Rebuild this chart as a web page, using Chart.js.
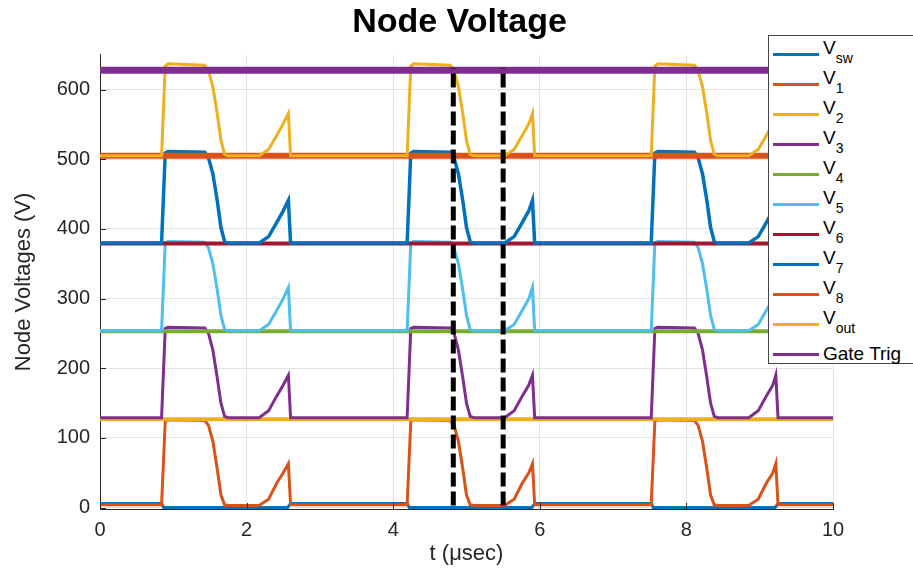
<!DOCTYPE html>
<html>
<head>
<meta charset="utf-8">
<script src="https://cdn.jsdelivr.net/npm/chart.js@4.4.1/dist/chart.umd.min.js"></script>
<style>
  body { margin: 0; overflow: hidden; background: #fff; }
  #wrap { position: relative; width: 913px; height: 574px; overflow: hidden; }
  #leyenda {
    position: absolute; left: 768px; top: 35px; width: 160px; height: 327px;
    border: 1px solid #444; background: #fff;
    font-family: "Liberation Sans", Arial, sans-serif; color: #000;
  }
  .muestra { position: absolute; left: 4px; width: 46px; height: 3px; }
  .texto { position: absolute; left: 54px; font-size: 19px; line-height: 19px; white-space: nowrap; }
  .sub { font-size: 14px; position: relative; top: 9px; }
</style>
</head>
<body>
<div id="wrap">
  <canvas id="grafico" width="913" height="574"></canvas>
  <div id="leyenda"></div>
</div>
<script>
// tiempos compartidos por las señales pulsadas (µs)
const tPulso = [
  0, 0.84, 0.89, 0.93, 1.43, 1.48, 1.54, 1.60, 1.65, 1.70, 1.75, 2.17, 2.30, 2.41, 2.50, 2.57, 2.60, 2.63,
  4.19, 4.24, 4.28, 4.78, 4.83, 4.89, 4.95, 5.00, 5.05, 5.10, 5.52, 5.65, 5.76, 5.85, 5.90, 5.93, 5.96,
  7.52, 7.57, 7.61, 8.11, 8.16, 8.22, 8.28, 8.33, 8.38, 8.43, 8.85, 8.98, 9.09, 9.18, 9.22, 9.25, 9.28, 10
];
const v1 = [
  4, 4, 124, 126, 125, 118, 95, 55, 18, 4, 3, 3, 12, 35, 50, 63, 4, 4,
  4, 124, 126, 125, 118, 95, 55, 18, 4, 3, 3, 12, 35, 50, 63, 4, 4,
  4, 124, 126, 125, 118, 95, 55, 18, 4, 3, 3, 12, 35, 50, 63, 4, 4, 4
];
const v3 = [
  129, 129, 257, 259, 258, 250, 226, 186, 150, 131, 129, 129, 139, 160, 176, 190, 129, 129,
  129, 257, 259, 258, 250, 226, 186, 150, 131, 129, 129, 139, 160, 176, 190, 129, 129,
  129, 257, 259, 258, 250, 226, 186, 150, 131, 129, 129, 139, 160, 176, 190, 129, 129, 129
];
const v5 = [
  254, 254, 380, 382, 381, 373, 350, 312, 276, 256, 254, 254, 263, 283, 300, 316, 254, 254,
  254, 380, 382, 381, 373, 350, 312, 276, 256, 254, 254, 263, 283, 300, 316, 254, 254,
  254, 380, 382, 381, 373, 350, 312, 276, 256, 254, 254, 263, 283, 300, 316, 254, 254, 254
];
const v7 = [
  380, 380, 509, 511, 510, 502, 479, 440, 402, 382, 380, 380, 389, 409, 426, 441, 380, 380,
  380, 509, 511, 510, 502, 479, 440, 402, 382, 380, 380, 389, 409, 426, 441, 380, 380,
  380, 509, 511, 510, 502, 479, 440, 402, 382, 380, 380, 389, 409, 426, 441, 380, 380, 380
];
const vOut = [
  505, 505, 634, 637, 635, 627, 604, 565, 527, 507, 505, 505, 514, 534, 551, 566, 505, 505,
  505, 634, 637, 635, 627, 604, 565, 527, 507, 505, 505, 514, 534, 551, 566, 505, 505,
  505, 634, 637, 635, 627, 604, 565, 527, 507, 505, 505, 514, 534, 551, 566, 505, 505, 505
];
const tSw = [0, 0.84, 0.87, 2.56, 2.60, 4.19, 4.22, 5.89, 5.93, 7.52, 7.55, 9.21, 9.25, 10];
const vSw = [6, 6, 0, 0, 6, 6, 0, 0, 6, 6, 0, 0, 6, 6];
const tPlano = [0, 10];
const v2 = [127, 127];
const v4 = [253, 253];
const v6 = [379, 379];
const v8 = [505, 505];
const gateTrig = [628, 628];
const tCursor1 = [4.82, 4.82];
const tCursor2 = [5.50, 5.50];
const vCursor = [3, 631];

const nombres = ["V", "V", "V", "V", "V", "V", "V", "V", "V", "V", "Gate Trig"];
const subindices = ["sw", "1", "2", "3", "4", "5", "6", "7", "8", "out", ""];
const colores = ["#0072BD", "#D95319", "#EDB120", "#7E2F8E", "#77AC30", "#4DBEEE",
                 "#A2142F", "#0072BD", "#D95319", "#EDB120", "#7E2F8E"];

function puntos(xs, ys) {
  return xs.map((x, i) => ({ x: x, y: ys[i] }));
}

const series = [
  { t: tSw, v: vSw, ancho: 3 },
  { t: tPulso, v: v1, ancho: 3 },
  { t: tPlano, v: v2, ancho: 4 },
  { t: tPulso, v: v3, ancho: 3 },
  { t: tPlano, v: v4, ancho: 4 },
  { t: tPulso, v: v5, ancho: 3 },
  { t: tPlano, v: v6, ancho: 4 },
  { t: tPulso, v: v7, ancho: 3.5 },
  { t: tPlano, v: v8, ancho: 6 },
  { t: tPulso, v: vOut, ancho: 3 },
  { t: tPlano, v: gateTrig, ancho: 7 },
];

const datasets = series.map((s, i) => ({
  label: nombres[i] + subindices[i],
  data: puntos(s.t, s.v),
  borderColor: colores[i],
  borderWidth: s.ancho,
  pointRadius: 0,
  tension: 0,
  order: 11 - i,
}));

[tCursor1, tCursor2].forEach((tc) => {
  datasets.push({
    label: "cursor",
    data: puntos(tc, vCursor),
    borderColor: "#000",
    borderWidth: 5,
    borderDash: [14, 5],
    pointRadius: 0,
    order: 0,
  });
});

// marcas de los ticks hacia adentro, estilo MATLAB
const marcasTicks = {
  id: "marcasTicks",
  afterDatasetsDraw(chart) {
    const { ctx, chartArea, scales } = chart;
    ctx.save();
    ctx.strokeStyle = "#262626";
    ctx.lineWidth = 1;
    ctx.beginPath();
    scales.y.ticks.forEach((t) => {
      const py = Math.round(scales.y.getPixelForValue(t.value)) + 0.5;
      ctx.moveTo(chartArea.left, py);
      ctx.lineTo(chartArea.left + 6, py);
    });
    scales.x.ticks.forEach((t) => {
      const px = Math.round(scales.x.getPixelForValue(t.value)) + 0.5;
      ctx.moveTo(px, chartArea.bottom);
      ctx.lineTo(px, chartArea.bottom - 6);
    });
    ctx.stroke();
    ctx.restore();
  },
};

Chart.defaults.font.family = '"Liberation Sans", Arial, sans-serif';

const ctx = document.getElementById("grafico").getContext("2d");
new Chart(ctx, {
  type: "line",
  data: { datasets: datasets },
  plugins: [marcasTicks],
  options: {
    responsive: false,
    animation: false,
    layout: { padding: { left: 6, right: 0, top: 0, bottom: 0 } },
    plugins: {
      legend: { display: false },
      tooltip: { enabled: false },
      title: {
        display: true,
        text: "Node Voltage",
        color: "#000",
        font: { size: 34, weight: "bold" },
        padding: { top: 2, bottom: 12 },
      },
    },
    scales: {
      x: {
        type: "linear",
        min: 0,
        max: 10,
        afterFit: (s) => { s.height = 65; s.paddingRight = 80; },
        ticks: { stepSize: 2, color: "#262626", font: { size: 20 }, padding: 9 },
        grid: { color: "#e3e3e3", drawTicks: false },
        border: { color: "#262626" },
        title: {
          display: true,
          text: "t (μsec)",
          color: "#262626",
          font: { size: 22 },
          padding: { top: 0, bottom: 7 },
        },
      },
      y: {
        min: -2,
        max: 650,
        afterFit: (s) => { s.width = 94; },
        ticks: { stepSize: 100, includeBounds: false, color: "#262626", font: { size: 20 }, padding: 10 },
        grid: { color: "#e3e3e3", drawTicks: false },
        border: { color: "#262626" },
        title: {
          display: true,
          text: "Node Voltages (V)",
          color: "#262626",
          font: { size: 22 },
          padding: { top: 5, bottom: 0 },
        },
      },
    },
  },
});

// leyenda con subíndices como texto HTML
const leyenda = document.getElementById("leyenda");
nombres.forEach((nombre, i) => {
  const lineaY = 18 + 30 * i;
  const muestra = document.createElement("div");
  muestra.className = "muestra";
  muestra.style.top = (lineaY - 1.5) + "px";
  muestra.style.background = colores[i];
  leyenda.appendChild(muestra);

  const texto = document.createElement("div");
  texto.className = "texto";
  if (subindices[i]) {
    texto.style.top = (lineaY - 16) + "px";
    texto.innerHTML = nombre + '<span class="sub">' + subindices[i] + "</span>";
  } else {
    texto.style.top = (lineaY - 10) + "px";
    texto.textContent = nombre;
  }
  leyenda.appendChild(texto);
});
</script>
</body>
</html>
